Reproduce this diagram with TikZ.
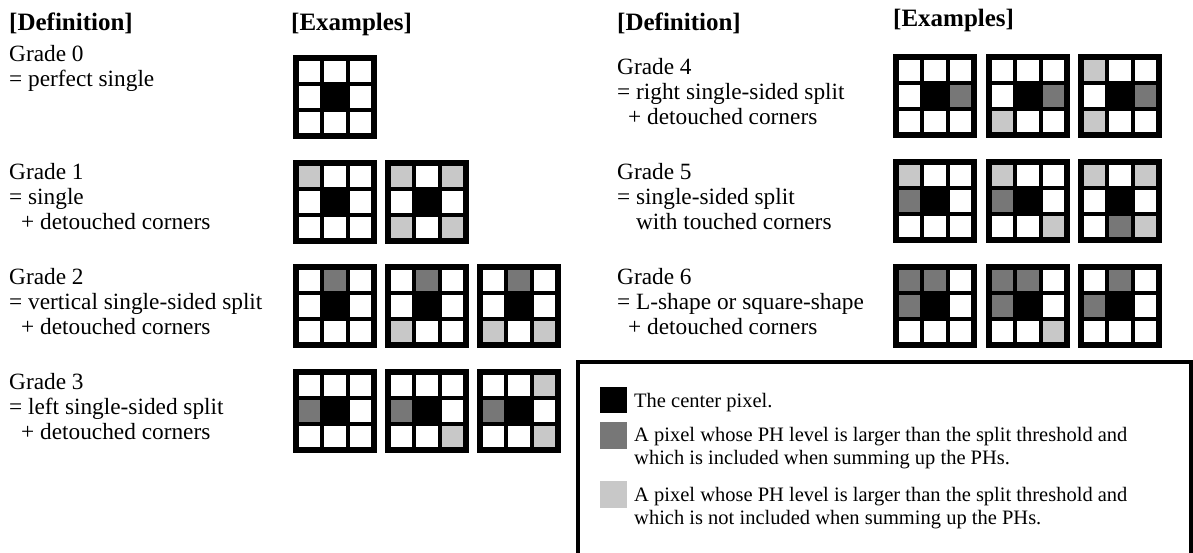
\documentclass[tikz,border=0pt]{standalone}
\usepackage{fontspec}
\setmainfont{Liberation Serif}
\definecolor{phdark}{HTML}{777777}
\definecolor{phlight}{HTML}{C8C8C8}
\tikzset{
  gridframe/.style={rectangle, fill=black, draw=none, inner sep=0,
    minimum width=84pt, minimum height=84pt},
  cellW/.style={fill=white},
  cellK/.style={fill=black},
  cellD/.style={fill=phdark},
  cellL/.style={fill=phlight},
  head/.style={anchor=base west, inner sep=0, font=\fontsize{25}{28}\selectfont\bfseries},
  deftext/.style={anchor=base west, inner sep=0, font=\fontsize{23.3}{25}\selectfont},
  keytext/.style={anchor=base west, inner sep=0, font=\fontsize{20.5}{23}\selectfont},
  swatch/.style={rectangle, draw=none, inner sep=0, minimum size=26.5pt, anchor=north west},
  legendframe/.style={rectangle, draw=black, line width=4pt, fill=none, inner sep=0, anchor=north west},
}
% 3x3 pixel neighbourhood: name, left x, top y, nine cell codes (row by row)
\newcommand\pixgrid[4]{%
  \node[gridframe] (#1) at (#2+42,#3+42) {};
  \foreach \cc [count=\k from 0] in {#4} {
    \pgfmathtruncatemacro\gr{div(\k,3)}
    \pgfmathtruncatemacro\gc{mod(\k,3)}
    \fill[cell\cc] (#2+6+25.33*\gc, #3+6+25.33*\gr) rectangle ++(21.33,21.33);
  }%
}
\begin{document}
\begin{tikzpicture}[x=1pt, y=-1pt]
\useasboundingbox (0,0) rectangle (1193,553);

% column headers
\node[head] (hdefL) at (9,31) {[Definition]};
\node[head] (hexL) at (291,31) {[Examples]};
\node[head] (hdefR) at (617,31) {[Definition]};
\node[head] (hexR) at (893,27) {[Examples]};

% left column definitions
\node[deftext] (d0a) at (9,62) {Grade 0};
\node[deftext] (d0b) at (9,87) {= perfect single};

\node[deftext] (d1a) at (9,180) {Grade 1};
\node[deftext] (d1b) at (9,205) {= single};
\node[deftext] (d1c) at (9,230) {\hspace{12pt}+ detouched corners};

\node[deftext] (d2a) at (9,284) {Grade 2};
\node[deftext] (d2b) at (9,309) {= vertical single-sided split};
\node[deftext] (d2c) at (9,334) {\hspace{12pt}+ detouched corners};

\node[deftext] (d3a) at (9,389) {Grade 3};
\node[deftext] (d3b) at (9,414) {= left single-sided split};
\node[deftext] (d3c) at (9,439) {\hspace{12pt}+ detouched corners};

% right column definitions
\node[deftext] (d4a) at (617,75) {Grade 4};
\node[deftext] (d4b) at (617,100) {= right single-sided split};
\node[deftext] (d4c) at (617,125) {\hspace{11pt}+ detouched corners};

\node[deftext] (d5a) at (617,180) {Grade 5};
\node[deftext] (d5b) at (617,205) {= single-sided split};
\node[deftext] (d5c) at (617,230) {\phantom{= }with touched corners};

\node[deftext] (d6a) at (617,284) {Grade 6};
\node[deftext] (d6b) at (617,309) {= L-shape or square-shape};
\node[deftext] (d6c) at (617,334) {\hspace{11pt}+ detouched corners};

% example neighbourhoods, left column
\pixgrid{g0}{293}{55}{W,W,W,W,K,W,W,W,W}

\pixgrid{g1a}{293}{160}{L,W,W,W,K,W,W,W,W}
\pixgrid{g1b}{385}{160}{L,W,L,W,K,W,L,W,L}

\pixgrid{g2a}{293}{264}{W,D,W,W,K,W,W,W,W}
\pixgrid{g2b}{385}{264}{W,D,W,W,K,W,L,W,W}
\pixgrid{g2c}{477}{264}{W,D,W,W,K,W,L,W,L}

\pixgrid{g3a}{293}{369}{W,W,W,D,K,W,W,W,W}
\pixgrid{g3b}{385}{369}{W,W,W,D,K,W,W,W,L}
\pixgrid{g3c}{477}{369}{W,W,L,D,K,W,W,W,L}

% example neighbourhoods, right column
\pixgrid{g4a}{893}{54}{W,W,W,W,K,D,W,W,W}
\pixgrid{g4b}{986}{54}{W,W,W,W,K,D,L,W,W}
\pixgrid{g4c}{1078}{54}{L,W,W,W,K,D,L,W,W}

\pixgrid{g5a}{893}{159}{L,W,W,D,K,W,W,W,W}
\pixgrid{g5b}{986}{159}{L,W,W,D,K,W,W,W,L}
\pixgrid{g5c}{1078}{159}{L,W,L,W,K,W,W,D,L}

\pixgrid{g6a}{893}{264}{D,D,W,D,K,W,W,W,W}
\pixgrid{g6b}{986}{264}{D,D,W,D,K,W,W,W,L}
\pixgrid{g6c}{1078}{264}{W,D,W,D,K,W,W,W,W}

% legend
\node[legendframe, minimum width=613pt, minimum height=220pt] (legend) at (576,360) {};
\node[swatch, fill=black] (keyC) at (600,386.5) {};
\node[swatch, fill=phdark] (keyD) at (600,422) {};
\node[swatch, fill=phlight] (keyL) at (600,481) {};
\node[keytext] (tC) at (634,407) {The center pixel.};
\node[keytext] (tDa) at (634,441) {A pixel whose PH level is larger than the split threshold and};
\node[keytext] (tDb) at (634,464) {which is included when summing up the PHs.};
\node[keytext] (tLa) at (634,501) {A pixel whose PH level is larger than the split threshold and};
\node[keytext] (tLb) at (634,524) {which is not included when summing up the PHs.};
\end{tikzpicture}
\end{document}
